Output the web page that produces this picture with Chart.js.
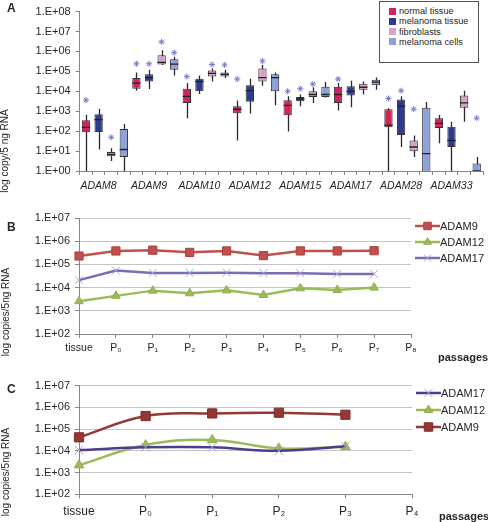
<!DOCTYPE html>
<html>
<head>
<meta charset="utf-8">
<script src="https://cdn.jsdelivr.net/npm/chart.js@4.4.0/dist/chart.umd.min.js"></script>
<style>
  body { margin: 0; background: #fff; }
  #wrap { position: relative; width: 488px; height: 522px; overflow: hidden; font-family: "Liberation Sans", Arial, sans-serif; color: #262626; }
  canvas { position: absolute; left: 0; }
  .panel { position: absolute; font-weight: bold; font-size: 12px; line-height: 12px; }
  .ytitle { position: absolute; font-size: 10px; line-height: 10px; white-space: nowrap; transform: translate(-50%, -50%) rotate(-90deg); }
  .xtitle { position: absolute; font-weight: bold; font-size: 11px; line-height: 11px; }
  #legA { position: absolute; left: 379px; top: 1px; width: 98px; height: 60px; border: 1px solid #555; background: #fff; }
  #legA .it { position: absolute; left: 9px; font-size: 9.2px; line-height: 10px; white-space: nowrap; }
  #legA .sw { display: inline-block; width: 7px; height: 7px; margin-right: 3px; vertical-align: -0.5px; }
  .lg { position: absolute; }
  .lg .row { position: absolute; left: 0; white-space: nowrap; font-size: 11px; line-height: 12px; }
  .lg canvas { position: static; vertical-align: top; }
</style>
</head>
<body>
<div id="wrap">
  <canvas id="chartA" width="488" height="192" style="top:0;width:488px;height:192px"></canvas>
  <canvas id="chartB" width="488" height="160" style="top:200px;width:488px;height:160px"></canvas>
  <canvas id="chartC" width="488" height="152" style="top:370px;width:488px;height:152px"></canvas>

  <div class="panel" style="left:7px;top:2px">A</div>
  <div class="panel" style="left:7px;top:221px">B</div>
  <div class="panel" style="left:7px;top:383px">C</div>

  <div class="ytitle" style="left:5px;top:151px">log copy/5 ng RNA</div>
  <div class="ytitle" style="left:6px;top:312px">log copies/5ng RNA</div>
  <div class="ytitle" style="left:6px;top:472px">log copies/5ng RNA</div>

  <div class="xtitle" style="left:438px;top:352px">passages</div>
  <div class="xtitle" style="left:439px;top:511px">passages</div>

  <div id="legA"></div>
  <div id="legB" class="lg" style="left:415px;top:220px"></div>
  <div id="legC" class="lg" style="left:416px;top:387px"></div>
</div>

<script>
// ===== Panel A: box plot data (copies / 5 ng RNA) =====
const genes = ['ADAM8', 'ADAM9', 'ADAM10', 'ADAM12', 'ADAM15', 'ADAM17', 'ADAM28', 'ADAM33'];
const groups = ['normal tissue', 'melanoma tissue', 'fibroblasts', 'melanoma cells'];
const decadesA = [1e0, 1e1, 1e2, 1e3, 1e4, 1e5, 1e6, 1e7, 1e8];

// 32 boxes: per gene -> normal, melanoma, fibroblasts, melanoma cells
const whiskerLow = [
  0.5, 12, 3.2, 0.5,
  1.07e4, 1.3e4, 2.1e5, 6.2e4,
  450, 7.4e3, 3.1e4, 4.6e4,
  34, 760, 1.9e4, 2.0e3,
  95, 1.8e3, 2.6e3, 4.9e3,
  1.1e3, 1.6e3, 6.9e3, 1.2e4,
  0.5, 16, 5.1, 0.5,
  25, 0.5, 300, 0.5
];
const q1 = [
  87, 91, 5.5, 5.1,
  1.35e4, 3.1e4, 2.2e5, 1.2e5,
  2.6e3, 1.0e4, 5.5e4, 5.5e4,
  790, 3.0e3, 3.1e4, 1.0e4,
  630, 3.2e3, 5.2e3, 5.2e3,
  2.6e3, 6.2e3, 1.2e4, 2.0e4,
  155, 65, 9.8, 0.5,
  145, 16, 1.5e3, 0.5
];
const median = [
  155, 380, 6.9, 12,
  2.6e4, 4.9e4, 2.8e5, 2.3e5,
  5.6e3, 3.1e4, 7.9e4, 7.1e4,
  1.26e3, 1.07e4, 4.9e4, 4.9e4,
  1.95e3, 4.2e3, 6.9e3, 6.9e3,
  6.9e3, 1.0e4, 1.6e4, 2.9e4,
  200, 1.8e3, 16, 7.4,
  245, 34, 2.6e3, 1.0
];
const q3 = [
  355, 710, 8.9, 130,
  4.6e4, 7.1e4, 6.5e5, 4.1e5,
  1.35e4, 4.3e4, 1.1e5, 8.9e4,
  1.8e3, 2.0e4, 1.4e5, 7.1e4,
  3.6e3, 5.2e3, 1.0e4, 1.7e4,
  1.7e4, 1.8e4, 2.4e4, 3.8e4,
  1.26e3, 3.9e3, 34, 1.5e3,
  450, 165, 6.2e3, 2.4
];
const whiskerHigh = [
  660, 1350, 14, 230,
  8.9e4, 1.2e5, 1.15e6, 5.4e5,
  2.6e4, 6.2e4, 1.4e5, 1.2e5,
  3.5e3, 4.3e4, 2.1e5, 8.9e4,
  5.6e3, 6.9e3, 1.6e4, 2.9e4,
  2.6e4, 3.4e4, 3.1e4, 4.9e4,
  1.4e3, 5.6e3, 60, 2.9e3,
  650, 300, 1.07e4, 5.1
];
const outliers = [
  3600, null, 49, null,
  2.4e5, 2.4e5, 3.0e6, 8.7e5,
  5.5e4, null, 2.2e5, 2.1e5,
  4.1e4, null, 3.3e5, null,
  1.0e4, 1.35e4, 2.3e4, null,
  4.1e4, null, null, null,
  4.4e3, 1.07e4, 1.26e3, null,
  null, null, null, 450
];

// ===== Panel B =====
const passagesB = ['tissue', 'P\u2080', 'P\u2081', 'P\u2082', 'P\u2083', 'P\u2084', 'P\u2085', 'P\u2086', 'P\u2087', 'P\u2088'];
const adam9B  = [2.3e5, 3.8e5, 4.1e5, 3.3e5, 3.8e5, 2.4e5, 3.8e5, 3.8e5, 3.9e5];
const adam12B = [2.6e3, 4.4e3, 7.4e3, 5.7e3, 7.6e3, 4.8e3, 9.3e3, 7.9e3, 1.0e4];
const adam17B = [2.1e4, 5.4e4, 4.3e4, 4.3e4, 4.4e4, 4.2e4, 4.2e4, 3.9e4, 3.9e4];

// ===== Panel C =====
const passagesC = ['tissue', 'P\u2080', 'P\u2081', 'P\u2082', 'P\u2083', 'P\u2084'];
const adam17C = [1.1e4, 1.45e4, 1.45e4, 1.0e4, 1.65e4];
const adam12C = [2.2e3, 1.85e4, 3.2e4, 1.3e4, 1.55e4];
const adam9C  = [4.2e4, 4.0e5, 5.3e5, 5.7e5, 4.6e5];

const decadesBC = [1e2, 1e3, 1e4, 1e5, 1e6, 1e7];

// ===== helpers =====
const FONT = 'Liberation Sans';
const TXT = '#262626';
const AXIS = '#868686';
const GRID = '#C4C4C4';
const fmtE = (v) => '1.E+' + String(Math.round(Math.log10(v))).padStart(2, '0');
const boxColors = ['#D2235B', '#2D3B8E', '#D9A2C8', '#8EA1D8'];

Chart.defaults.font.family = FONT;
Chart.defaults.color = TXT;

function logAxis(decades, width) {
  return {
    type: 'logarithmic',
    min: decades[0],
    max: decades[decades.length - 1],
    afterBuildTicks: (s) => { s.ticks = decades.map(v => ({ value: v })); },
    afterFit: (s) => { s.width = width; },
    ticks: { callback: fmtE, font: { size: 11 }, color: TXT, padding: 5, autoSkip: false },
    border: { color: AXIS }
  };
}

// ===== Panel A =====
const boxLabels = genes.flatMap(g => groups.map(k => g + ' ' + k));

// whiskers behind the boxes, medians on top
const boxPlugin = {
  id: 'boxWhiskers',
  beforeDatasetsDraw(chart) {
    const { ctx, chartArea: ca, scales: { y } } = chart;
    const bars = chart.getDatasetMeta(0).data;
    ctx.save();
    ctx.beginPath(); ctx.rect(ca.left, ca.top, ca.right - ca.left, ca.bottom - ca.top); ctx.clip();
    ctx.strokeStyle = '#2a2a2a';
    ctx.lineWidth = 1.3;
    bars.forEach((b, i) => {
      const x = Math.round(b.x) + 0.5;
      ctx.beginPath();
      ctx.moveTo(x, y.getPixelForValue(whiskerLow[i]));
      ctx.lineTo(x, y.getPixelForValue(whiskerHigh[i]));
      ctx.stroke();
    });
    ctx.restore();
  },
  afterDatasetsDraw(chart) {
    const { ctx, chartArea: ca, scales: { y } } = chart;
    const bars = chart.getDatasetMeta(0).data;
    ctx.save();
    ctx.beginPath(); ctx.rect(ca.left, ca.top, ca.right - ca.left, ca.bottom - ca.top); ctx.clip();
    ctx.strokeStyle = '#222';
    ctx.lineWidth = 1.3;
    bars.forEach((b, i) => {
      const yy = y.getPixelForValue(median[i]);
      ctx.beginPath();
      ctx.moveTo(b.x - b.width / 2, yy);
      ctx.lineTo(b.x + b.width / 2, yy);
      ctx.stroke();
    });
    ctx.restore();
  }
};

new Chart(document.getElementById('chartA'), {
  type: 'bar',
  data: {
    labels: boxLabels,
    datasets: [
      {
        data: q1.map((v, i) => [v, q3[i]]),
        backgroundColor: boxLabels.map((_, i) => boxColors[i % 4]),
        borderColor: '#333',
        borderWidth: 1,
        borderSkipped: false,
        barPercentage: 0.66,
        categoryPercentage: 1
      },
      {
        type: 'line',
        data: outliers,
        showLine: false,
        pointStyle: 'star',
        pointRadius: 3,
        pointBorderWidth: 1,
        pointBorderColor: '#7878C8',
        pointBackgroundColor: '#7878C8'
      }
    ]
  },
  options: {
    responsive: false,
    devicePixelRatio: 1,
    animation: false,
    layout: { padding: { left: 0, top: 9, right: 2.5, bottom: 0 } },
    plugins: { legend: { display: false }, tooltip: { enabled: false } },
    scales: {
      x: {
        afterFit: (s) => { s.height = 21; },
        grid: { drawOnChartArea: false, tickLength: 4, color: AXIS },
        border: { color: AXIS },
        ticks: {
          autoSkip: false, maxRotation: 0, padding: 5,
          font: { size: 10.5, style: 'italic' }, color: TXT,
          callback: (v, i) => (i % 4 === 1 ? genes[(i - 1) / 4] : '')
        }
      },
      y: Object.assign(logAxis(decadesA, 79.7), {
        grid: { drawOnChartArea: false, tickLength: 4, color: AXIS }
      })
    }
  },
  plugins: [boxPlugin]
});

// legend A
const legA = document.getElementById('legA');
groups.forEach((g, i) => {
  const d = document.createElement('div');
  d.className = 'it';
  d.style.top = (4 + i * 10.3) + 'px';
  d.innerHTML = `<span class="sw" style="background:${boxColors[i]}"></span>${g}`;
  legA.appendChild(d);
});

// ===== Panels B & C =====
function lineOptions(padTop, padRight, xHeight, labelSize, labelPad) {
  return {
    responsive: false,
    devicePixelRatio: 1,
    animation: false,
    layout: { padding: { left: 0, top: padTop, right: padRight, bottom: 0 } },
    plugins: { legend: { display: false }, tooltip: { enabled: false } },
    scales: {
      x: {
        afterFit: (s) => { s.height = xHeight; },
        grid: { drawOnChartArea: false, tickLength: 4, color: AXIS },
        border: { color: AXIS },
        ticks: { autoSkip: false, maxRotation: 0, padding: labelPad, font: { size: labelSize }, color: TXT }
      },
      y: Object.assign(logAxis(decadesBC, 79), {
        grid: { color: GRID, tickLength: 4, tickColor: AXIS }
      })
    }
  };
}

const seriesB = [
  { label: 'ADAM9',  data: adam9B,  color: '#C0504D', mk: '#C0504D', mkb: '#A8423F', style: 'rect', r: 5.8, bw: 1 },
  { label: 'ADAM12', data: adam12B, color: '#9BBB59', mk: '#9BBB59', mkb: '#8FB050', style: 'triangle', r: 5, bw: 1 },
  { label: 'ADAM17', data: adam17B, color: '#7D6BB3', mk: 'rgba(0,0,0,0)', mkb: '#A9A7D6', style: 'crossRot', r: 5.6, bw: 1 }
];
const seriesC = [
  { label: 'ADAM17', data: adam17C, color: '#4C3D8E', mk: 'rgba(0,0,0,0)', mkb: '#A3A1C9', style: 'crossRot', r: 6, bw: 1 },
  { label: 'ADAM12', data: adam12C, color: '#9BBB59', mk: '#9BBB59', mkb: '#8FB050', style: 'triangle', r: 5.5, bw: 1 },
  { label: 'ADAM9',  data: adam9C,  color: '#953735', mk: '#953735', mkb: '#7E2C2A', style: 'rect', r: 6.5, bw: 1 }
];

const toDataset = (s, tension) => ({
  label: s.label, data: s.data,
  borderColor: s.color, borderWidth: 2.5, tension,
  pointStyle: s.style, pointRadius: s.r,
  pointBackgroundColor: s.mk, pointBorderColor: s.mkb, pointBorderWidth: s.bw
});

new Chart(document.getElementById('chartB'), {
  type: 'line',
  data: { labels: passagesB, datasets: seriesB.map(s => toDataset(s, 0)) },
  options: lineOptions(18, 77, 26, 10.5, 4)
});

new Chart(document.getElementById('chartC'), {
  type: 'line',
  data: { labels: passagesC, datasets: seriesC.map(s => toDataset(s, 0.4)) },
  options: lineOptions(15.7, 76, 27.7, 12, 6)
});

function buildLegend(id, series, step) {
  const box = document.getElementById(id);
  series.forEach((s, i) => {
    const row = document.createElement('div');
    row.className = 'row';
    row.style.top = (i * step) + 'px';
    const c = document.createElement('canvas');
    c.width = 25; c.height = 12;
    const ctx = c.getContext('2d');
    ctx.strokeStyle = s.color; ctx.lineWidth = 2.5;
    ctx.beginPath(); ctx.moveTo(0, 6); ctx.lineTo(25, 6); ctx.stroke();
    ctx.fillStyle = s.mk; ctx.strokeStyle = s.mkb; ctx.lineWidth = s.bw;
    if (Chart.helpers && Chart.helpers.drawPoint) {
      Chart.helpers.drawPoint(ctx, { pointStyle: s.style, radius: s.r - 0.5, borderWidth: s.bw, rotation: 0 }, 12.5, 6);
    }
    row.appendChild(c);
    const t = document.createElement('span');
    t.textContent = s.label;
    row.appendChild(t);
    box.appendChild(row);
  });
}
buildLegend('legB', seriesB, 16);
buildLegend('legC', seriesC, 17);
</script>
</body>
</html>
